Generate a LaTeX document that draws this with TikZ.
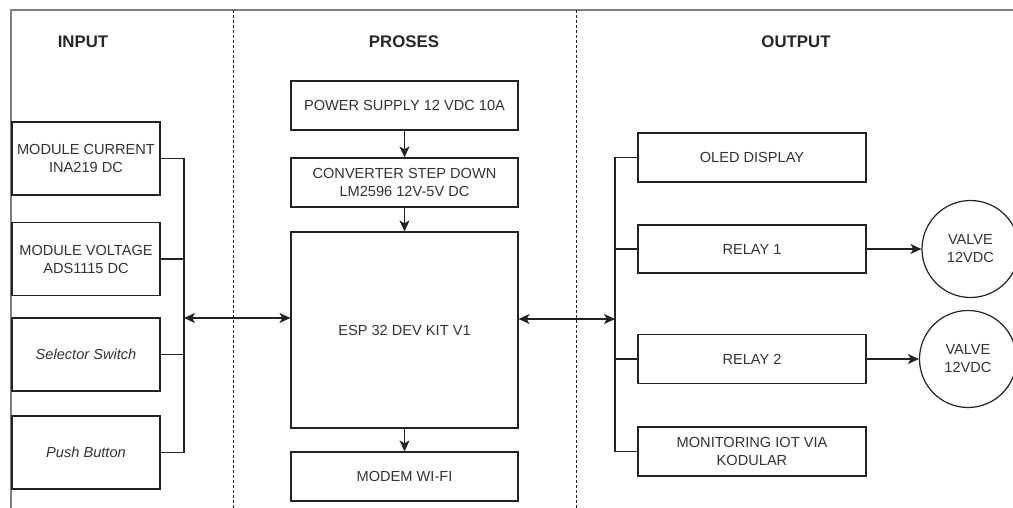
\documentclass[tikz,border=0pt]{standalone}
\usepackage{fontspec}
\setmainfont{Liberation Sans}
\usepackage{tikz}
\usetikzlibrary{arrows.meta,positioning,calc}
\definecolor{teks}{HTML}{333333}
\definecolor{garis}{HTML}{222222}
\tikzstyle{blok}=[draw=garis,rectangle,inner sep=0pt,align=center,text=teks,font=\fontsize{14.6}{18}\selectfont]
\tikzstyle{katup}=[draw=garis,circle,minimum size=97pt,inner sep=0pt,align=center,text=teks,font=\fontsize{14.6}{18}\selectfont]
\tikzstyle{judul}=[text=black!85,font=\fontsize{16.8}{20}\selectfont\bfseries]

\begin{document}
\begin{tikzpicture}[x=1pt,y=-1pt,line width=1.2pt,>={Stealth[length=11pt,width=10pt,inset=3pt]}]
    \clip (0,0) rectangle (1013,508);
    \fill[white] (0,0) rectangle (1013,508);
    % frame and columns
    \draw[gray,line width=1.4pt] (11,508) -- (11,10) -- (1013,10);
    \draw[garis,line width=0.9pt,dash pattern=on 3pt off 2pt] (233,10) -- (233,508);
    \draw[garis,line width=0.9pt,dash pattern=on 3pt off 2pt] (576,10) -- (576,508);
    \node [judul] (tin) at (83,42) {INPUT};
    \node [judul] (tpr) at (404,42) {PROSES};
    \node [judul] (tout) at (796,42) {OUTPUT};
    % input
    \node [blok,minimum width=148pt,minimum height=73pt] (arus) at (86,158.5) {MODULE CURRENT\\INA219 DC};
    \node [blok,minimum width=148pt,minimum height=73pt] (tegangan) at (86,259) {MODULE VOLTAGE\\ADS1115 DC};
    \node [blok,minimum width=148pt,minimum height=73pt] (selektor) at (86,354.5) {\itshape Selector Switch};
    \node [blok,minimum width=148pt,minimum height=73pt] (tombol) at (86,452.5) {\itshape Push Button};
    % proses
    \node [blok,minimum width=227pt,minimum height=49pt] (psu) at (404.5,105.5) {POWER SUPPLY 12 VDC 10A};
    \node [blok,minimum width=227pt,minimum height=49pt] (konverter) at (404.5,182.5) {CONVERTER STEP DOWN\\LM2596 12V-5V DC};
    \node [blok,minimum width=227pt,minimum height=196pt] (esp) at (404.5,330) {ESP 32 DEV KIT V1};
    \node [blok,minimum width=227pt,minimum height=49pt] (modem) at (404.5,476.5) {MODEM WI-FI};
    % output
    \node [blok,minimum width=228pt,minimum height=49pt] (oled) at (752,157.5) {OLED DISPLAY};
    \node [blok,minimum width=228pt,minimum height=48pt] (relay1) at (752,249) {RELAY 1};
    \node [blok,minimum width=228pt,minimum height=49pt] (relay2) at (752,359) {RELAY 2};
    \node [blok,minimum width=228pt,minimum height=49pt] (iot) at (752,451.5) {MONITORING IOT VIA\\KODULAR};
    \node [katup] (valve1) at (970.5,249) {VALVE\\12VDC};
    \node [katup] (valve2) at (968,359) {VALVE\\12VDC};
    % connections
    \coordinate (busin) at (184,318);
    \coordinate (busout) at (615,319);
    \draw[garis] (arus.east) -| (busin);
    \draw[garis] (tombol.east) -| (busin);
    \draw[garis] (tegangan.east) -- (tegangan.east -| busin);
    \draw[garis] (selektor.east) -- (selektor.east -| busin);
    \draw[garis,<->] (busin) -- (esp.west |- busin);
    \draw[garis,->] (psu) -- (konverter);
    \draw[garis,->] (konverter) -- (esp);
    \draw[garis,->] (esp) -- (modem);
    \draw[garis,<->] (esp.east |- busout) -- (busout);
    \draw[garis] (oled.west) -| (busout);
    \draw[garis] (iot.west) -| (busout);
    \draw[garis] (relay1.west) -- (relay1.west -| busout);
    \draw[garis] (relay2.west) -- (relay2.west -| busout);
    \draw[garis,->] (relay1) -- (valve1);
    \draw[garis,->] (relay2) -- (valve2);
\end{tikzpicture}
\end{document}
